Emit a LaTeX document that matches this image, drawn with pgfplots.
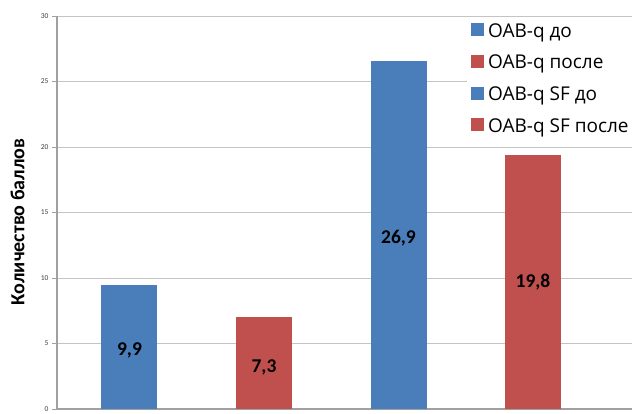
\documentclass[border=0pt]{standalone}
\usepackage{pgfplots}
\pgfplotsset{compat=1.18}
\usepackage{fontspec}
\setmainfont{Carlito}
\newfontfamily\legfont{Open Sans}
\definecolor{barblue}{HTML}{4A7EBB}
\definecolor{barred}{HTML}{C0504D}
\definecolor{gridc}{HTML}{C4C4C4}
\definecolor{axisc}{HTML}{A0A0A0}
\begin{document}
\begin{tikzpicture}
\useasboundingbox (0,0) rectangle (634pt,414pt);
\begin{axis}[
  at={(57pt,5pt)}, anchor=south west,
  scale only axis, width=575pt, height=393pt,
  xmin=-0.539, xmax=3.736, ymin=0, ymax=30,
  ytick={0,5,...,30}, xtick=\empty,
  ymajorgrids, grid style={gridc, line width=0.9pt},
  axis lines*=left, axis line style={axisc, line width=1.1pt},
  tick style={axisc, line width=0.9pt}, tick align=outside, major tick length=5pt,
  yticklabel style={font=\fontsize{7.5}{8}\selectfont, color=black!75},
  /pgf/number format/assume math mode=true,
  ylabel={Количество баллов},
  every axis y label/.style={at={(axis description cs:-0.0687,0.476)}, rotate=90, anchor=center, font=\bfseries\fontsize{20}{21}\selectfont},
  ybar, bar width=56pt, bar shift=0pt,
  legend style={at={(axis description cs:0.713,0.997)}, anchor=north west, draw=none, fill=white,
    font=\legfont\fontsize{19}{20}\selectfont, row sep=12.5pt, inner sep=4pt,
    nodes={inner xsep=4pt}},
  legend cell align=left,
  legend image code/.code={\fill[#1,draw=none] (0pt,-5pt) rectangle (13pt,8pt);},
]
\addplot[fill=barblue, draw=none] coordinates {(0,9.5)};
\addlegendentry{OAB-q до}
\addplot[fill=barred, draw=none] coordinates {(1,7.0)};
\addlegendentry{OAB-q после}
\addplot[fill=barblue, draw=none] coordinates {(2,26.6)};
\addlegendentry{OAB-q SF до}
\addplot[fill=barred, draw=none] coordinates {(3,19.4)};
\addlegendentry{OAB-q SF после}
\addplot[forget plot, draw=none, fill=none, nodes near coords, point meta=explicit symbolic,
  every node near coord/.style={anchor=center, font=\bfseries\fontsize{19.5}{20}\selectfont, black}]
  coordinates {(0,4.5)[9,9] (1,3.2)[7,3] (2,13.05)[26,9] (3,9.7)[19,8]};
\end{axis}
\end{tikzpicture}
\end{document}
